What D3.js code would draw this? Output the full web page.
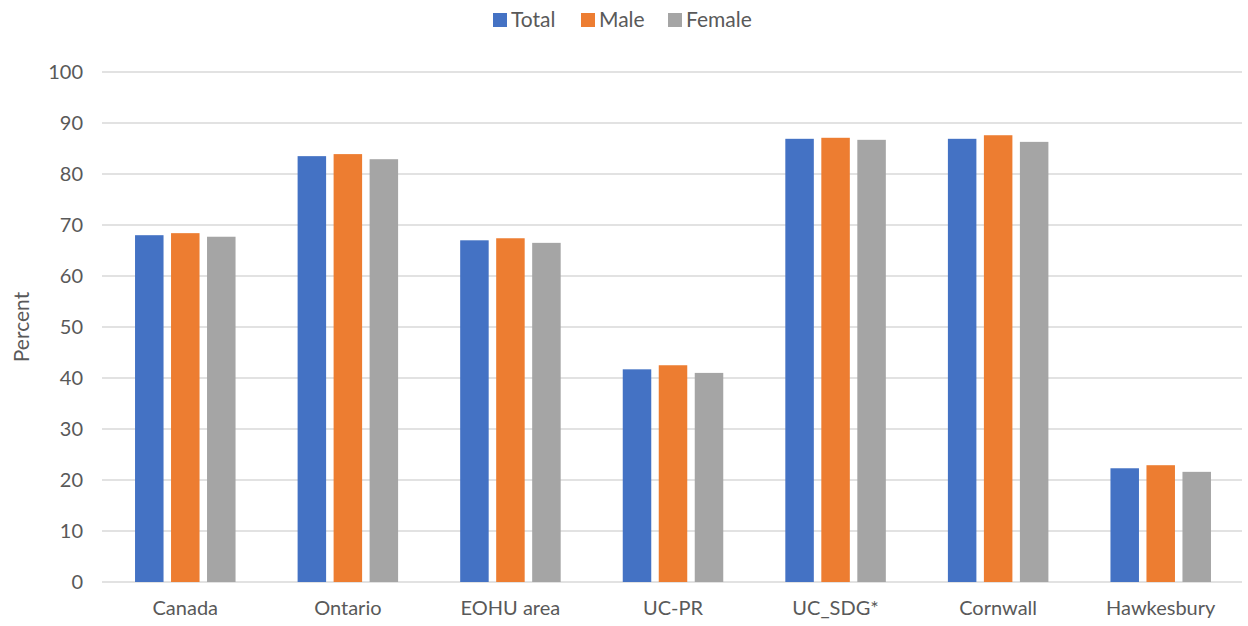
<!DOCTYPE html>
<svg width="1248" height="626"></svg>
<script src="https://d3js.org/d3.v7.min.js"></script>
<style>
    body { margin: 0; background: #fff; }
    text { font-family: Lato, "Open Sans", sans-serif; fill: #595959; }
</style>
<script>
    var categories = ["Canada", "Ontario", "EOHU area", "UC-PR", "UC_SDG*", "Cornwall", "Hawkesbury"];
    var seriesNames = ["Total", "Male", "Female"];
    var colors = ["#4472c4", "#ed7d31", "#a5a5a5"];
    var total = [68.0, 83.5, 67.0, 41.7, 86.9, 86.9, 22.3];
    var male = [68.4, 83.9, 67.4, 42.5, 87.1, 87.6, 22.9];
    var female = [67.7, 82.9, 66.5, 41.0, 86.7, 86.3, 21.6];
    var yTicks = [0, 10, 20, 30, 40, 50, 60, 70, 80, 90, 100];

    var svg = d3.select("svg"),
        margin = { top: 72, right: 6, bottom: 44, left: 104 },
        width = +svg.attr("width") - margin.left - margin.right,
        height = +svg.attr("height") - margin.top - margin.bottom,
        g = svg.append("g").attr("transform", "translate(" + margin.left + "," + margin.top + ")");

    var values = [total, male, female];

    var x = d3.scaleBand().domain(categories).range([0, width]).paddingInner(0).paddingOuter(0);
    var y = d3.scaleLinear().domain([0, 100]).range([height, 0]);

    var barW = 28.5, step = 36;
    var x1 = d3.scaleOrdinal().domain(seriesNames).range([-step - barW / 2, -barW / 2, step - barW / 2]);

    // gridlines
    g.append("g").selectAll("line").data(yTicks).enter().append("line")
        .attr("x1", -2).attr("x2", width)
        .attr("y1", function (d) { return y(d); })
        .attr("y2", function (d) { return y(d); })
        .attr("stroke", "#d9d9d9").attr("stroke-width", 1.5);

    // y labels
    g.append("g").selectAll("text").data(yTicks).enter().append("text")
        .attr("x", -21).attr("y", function (d) { return y(d); })
        .attr("dy", "0.35em").attr("text-anchor", "end")
        .style("font-size", "20px")
        .text(function (d) { return d; });

    // bars
    seriesNames.forEach(function (s, si) {
        g.append("g").selectAll("rect").data(values[si]).enter().append("rect")
            .attr("x", function (d, i) { return x(categories[i]) + x.bandwidth() / 2 + x1(s); })
            .attr("y", function (d) { return y(d); })
            .attr("width", barW)
            .attr("height", function (d) { return y(0) - y(d); })
            .attr("fill", colors[si]);
    });

    // x labels
    g.append("g").selectAll("text").data(categories).enter().append("text")
        .attr("x", function (d) { return x(d) + x.bandwidth() / 2; })
        .attr("y", height + 33)
        .attr("text-anchor", "middle")
        .style("font-size", "20px")
        .text(function (d) { return d; });

    // y axis title
    svg.append("text")
        .attr("transform", "translate(29," + (margin.top + height / 2) + ") rotate(-90)")
        .attr("text-anchor", "middle")
        .style("font-size", "21px")
        .text("Percent");

    // legend
    var legendX = [493, 581, 668];
    var legend = svg.append("g").selectAll("g").data(seriesNames).enter().append("g")
        .attr("transform", function (d, i) { return "translate(" + legendX[i] + ",20)"; });
    legend.append("rect").attr("x", 0).attr("y", -7).attr("width", 14).attr("height", 14)
        .attr("fill", function (d, i) { return colors[i]; });
    legend.append("text").attr("x", 18).attr("y", 0).attr("dy", "0.35em")
        .style("font-size", "21px")
        .text(function (d) { return d; });
</script>
